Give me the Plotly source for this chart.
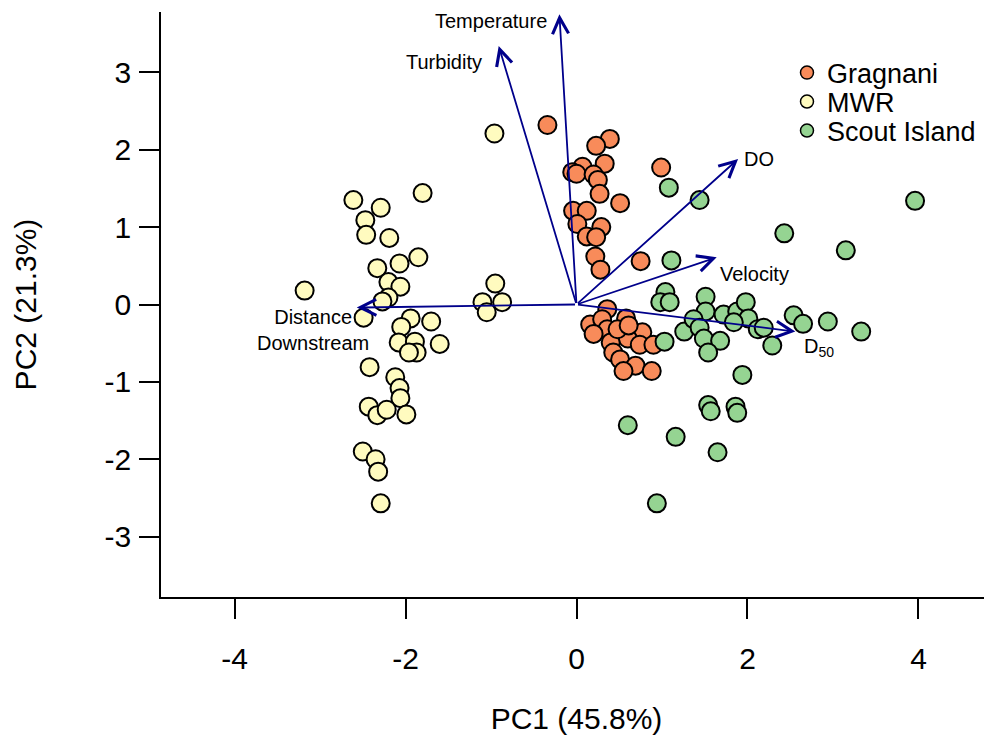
import plotly.graph_objects as go

# ---------------- data ----------------
gragnani_x = [-0.34, 0.39, 0.23, 0.33, 0.07, -0.05, 0.00, 0.20, 0.25, 0.27, 0.51, 0.99,
              -0.04, 0.12, 0.01, 0.29, 0.12, 0.23, 0.22, 0.28, 0.75,
              0.36, 0.58, 0.16, 0.30, 0.36, 0.20, 0.77, 0.60, 0.40, 0.74, 0.90,
              0.43, 0.51, 0.69, 0.55, 0.88, 0.48, 0.61]
gragnani_y = [2.32, 2.14, 2.05, 1.82, 1.78, 1.71, 1.69, 1.68, 1.61, 1.43, 1.31, 1.77,
              1.21, 1.21, 1.04, 1.00, 0.88, 0.87, 0.62, 0.45, 0.56,
              -0.06, -0.18, -0.26, -0.19, -0.32, -0.38, -0.36, -0.44, -0.49, -0.52, -0.52,
              -0.62, -0.71, -0.79, -0.86, -0.86, -0.32, -0.27]

mwr_x = [-0.96, -2.61, -2.29, -1.80, -2.47, -2.46, -2.19, -1.85, -2.07, -2.33,
         -2.20, -2.06, -2.20, -2.27, -3.18, -2.49, -1.94, -2.05, -1.70, -2.08,
         -1.89, -1.87, -1.96, -1.60, -2.42, -2.12, -2.07, -2.06, -2.43, -2.33,
         -2.22, -1.99, -2.50, -2.35, -2.32, -2.29, -0.95, -1.10, -0.87, -1.05]
mwr_y = [2.21, 1.35, 1.25, 1.44, 1.09, 0.90, 0.86, 0.61, 0.53, 0.47,
         0.29, 0.23, 0.09, 0.04, 0.18, -0.17, -0.18, -0.29, -0.22, -0.49,
         -0.48, -0.62, -0.62, -0.51, -0.81, -0.94, -1.08, -1.21, -1.32, -1.43,
         -1.36, -1.42, -1.90, -2.00, -2.16, -2.57, 0.27, 0.03, 0.03, -0.10]

scout_x = [1.08, 1.44, 3.96, 2.43, 3.15, 1.11, 1.04, 0.98, 1.09, 1.51,
           1.51, 1.72, 1.88, 1.98, 2.01, 2.12, 2.19, 2.54, 2.65, 2.94,
           3.33, 2.29, 1.26, 1.37, 1.44, 1.49, 1.68, 1.54, 1.84, 1.03,
           1.94, 1.54, 1.57, 1.86, 1.88, 0.60, 1.16, 1.65, 0.94]
scout_y = [1.51, 1.35, 1.34, 0.92, 0.70, 0.57, 0.16, 0.03, 0.03, 0.10,
           -0.09, -0.13, -0.09, 0.03, -0.18, -0.32, -0.30, -0.14, -0.25, -0.22,
           -0.35, -0.53, -0.35, -0.19, -0.30, -0.44, -0.47, -0.62, -0.23, -0.48,
           -0.91, -1.30, -1.38, -1.32, -1.40, -1.56, -1.71, -1.91, -2.57]

# loading vectors (arrow tips)
vec_names = ["Temperature", "Turbidity", "DO", "Velocity", "D50", "Distance Downstream"]
vec_x = [-0.20, -0.91, 1.89, 1.64, 2.56, -2.57]
vec_y = [3.75, 3.34, 1.88, 0.61, -0.35, -0.04]

# label positions for vectors
lab_text = ["Temperature", "Turbidity", "DO", "Velocity", "D<sub>50</sub>", "Distance<br>Downstream"]
lab_x = [-0.32, -1.08, 1.94, 1.66, 2.64, -3.08]
lab_y = [3.66, 3.14, 1.88, 0.39, -0.56, -0.33]
lab_anchor = ["right", "right", "left", "left", "left", "center"]

groups = ["Gragnani", "MWR", "Scout Island"]
colors = ["#F88B5A", "#FFFBBF", "#95D492"]
legend_ids = ["legend", "legend2", "legend3"]
legend_rows = [0.8957, 0.8462, 0.7966]   # paper-y of each legend row

x_ticks = [-4, -2, 0, 2, 4]
y_ticks = [-3, -2, -1, 0, 1, 2, 3]

FONT = "Liberation Sans, Arial, Helvetica, sans-serif"
ARROW = "#00008B"

fig = go.Figure()
for name, xs, ys, c in zip(groups, [gragnani_x, mwr_x, scout_x],
                           [gragnani_y, mwr_y, scout_y], colors):
    fig.add_trace(go.Scatter(x=xs, y=ys, mode="markers", name=name, showlegend=False,
                             marker=dict(size=18, color=c, line=dict(color="black", width=2))))
# legend entries (smaller symbols, as in the reference), one legend per row
for name, c, lg in zip(groups, colors, legend_ids):
    fig.add_trace(go.Scatter(x=[None], y=[None], mode="markers", name=name, legend=lg,
                             marker=dict(size=13, color=c, line=dict(color="black", width=1.5))))

annotations = []
for vx, vy in zip(vec_x, vec_y):
    annotations.append(dict(x=vx, y=vy, ax=0, ay=0, xref="x", yref="y", axref="x", ayref="y",
                            text="", showarrow=True, arrowhead=5, arrowsize=1.75, arrowwidth=1.8,
                            arrowcolor=ARROW, standoff=0, startstandoff=0))
for t, lx, ly, anc in zip(lab_text, lab_x, lab_y, lab_anchor):
    annotations.append(dict(x=lx, y=ly, xref="x", yref="y", text=t, showarrow=False,
                            xanchor=anc, yanchor="middle", align="center",
                            font=dict(size=20, color="black", family=FONT)))

legend_style = dict(xanchor="left", yanchor="middle", x=0.7533,
                    font=dict(size=27, family=FONT, color="black"),
                    bgcolor="rgba(0,0,0,0)")
layout_legends = {lg: dict(y=yy, **legend_style) for lg, yy in zip(legend_ids, legend_rows)}

# the page body adds an 8px offset, margins compensate for it
fig.update_layout(
    width=992, height=740,
    margin=dict(l=153, r=8, t=4, b=151),
    paper_bgcolor="white", plot_bgcolor="white",
    font=dict(family=FONT, color="black"),
    annotations=annotations,
    xaxis=dict(range=[-4.86, 4.86], tickvals=x_ticks, ticktext=[str(v) for v in x_ticks],
               showgrid=False, zeroline=False, showline=True, linecolor="black", linewidth=1.5,
               ticks="outside", ticklen=20, tickwidth=1.5, tickcolor="black",
               tickfont=dict(size=30, family=FONT), ticklabelstandoff=14, automargin=False,
               title=dict(text="PC1 (45.8%)", font=dict(size=30, family=FONT), standoff=34)),
    yaxis=dict(range=[-3.78, 3.78], tickvals=y_ticks, ticktext=[str(v) for v in y_ticks],
               showgrid=False, zeroline=False, showline=True, linecolor="black", linewidth=1.5,
               ticks="outside", ticklen=20, tickwidth=1.5, tickcolor="black",
               tickfont=dict(size=30, family=FONT), ticklabelstandoff=2, automargin=False,
               title=dict(text="PC2 (21.3%)", font=dict(size=30, family=FONT), standoff=59)),
    **layout_legends,
)

fig.write_html("out.html")
